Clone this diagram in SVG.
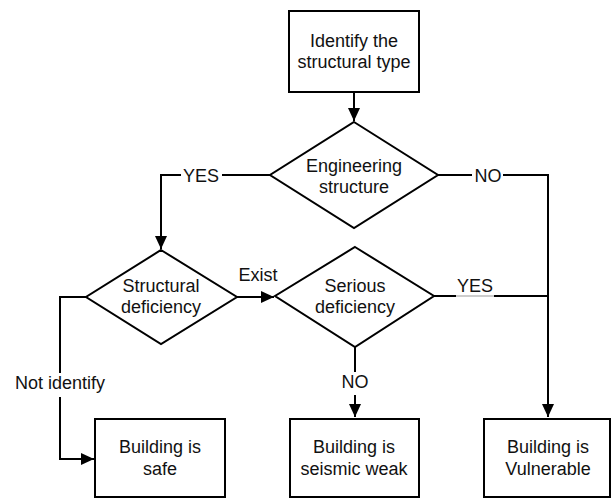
<svg xmlns="http://www.w3.org/2000/svg" width="612" height="500" viewBox="0 0 612 500">
<defs>
<marker id="arr" markerWidth="14" markerHeight="14" refX="13" refY="6" orient="auto" markerUnits="userSpaceOnUse">
<path d="M0,0 L13,6 L0,12 Z" fill="#000"/>
</marker>
<style>
.shape{fill:#fff;stroke:#000;stroke-width:2}
.line{fill:none;stroke:#000;stroke-width:2}
text{font-family:"Liberation Sans",Arial,sans-serif;font-size:18px;fill:#111;text-anchor:middle}
</style>
</defs>
<rect width="612" height="500" fill="#fff"/>
<g id="connectors">
<path class="line" d="M354,92 V121" marker-end="url(#arr)"/>
<path class="line" d="M270,175 H222 M181,175 H161 V249" marker-end="url(#arr)"/>
<text x="201" y="182">YES</text>
<path class="line" d="M438,175 H472 M503,175 H548 V417" marker-end="url(#arr)"/>
<text x="488" y="182">NO</text>
<path class="line" d="M237,297 H274" marker-end="url(#arr)"/>
<text x="258" y="281">Exist</text>
<path class="line" d="M434,296 H456 M494,296 H548"/>
<path d="M456,296 H494" stroke="#bbb" stroke-width="1.5" fill="none"/>
<text x="475" y="292">YES</text>
<path class="line" d="M86,297 H60 V373"/>
<path class="line" d="M60,397 V459 H94" marker-end="url(#arr)"/>
<text x="60" y="389">Not identify</text>
<path class="line" d="M355,347 V372"/>
<path class="line" d="M355,395 V417" marker-end="url(#arr)"/>
<text x="355" y="388">NO</text>
</g>
<g id="start">
<rect class="shape" x="289" y="11" width="130" height="81"/>
<text x="354" y="47">Identify the</text>
<text x="354" y="68">structural type</text>
</g>
<g id="engineering">
<polygon class="shape" points="354,122 438,175 354,228 270,175"/>
<text x="354" y="172">Engineering</text>
<text x="354" y="193">structure</text>
</g>
<g id="structural">
<polygon class="shape" points="161,250 237,297 161,344 86,297"/>
<text x="161" y="292">Structural</text>
<text x="161" y="313">deficiency</text>
</g>
<g id="serious">
<polygon class="shape" points="355,247 434,296 355,347 275,296"/>
<text x="355" y="292">Serious</text>
<text x="355" y="313">deficiency</text>
</g>
<g id="safe">
<rect class="shape" x="95" y="419" width="130" height="78"/>
<text x="160" y="453">Building is</text>
<text x="160" y="475">safe</text>
</g>
<g id="weak">
<rect class="shape" x="290" y="419" width="129" height="78"/>
<text x="354" y="453">Building is</text>
<text x="354" y="475">seismic weak</text>
</g>
<g id="vulnerable">
<rect class="shape" x="484" y="419" width="126" height="78"/>
<text x="548" y="453">Building is</text>
<text x="548" y="475">Vulnerable</text>
</g>
</svg>
